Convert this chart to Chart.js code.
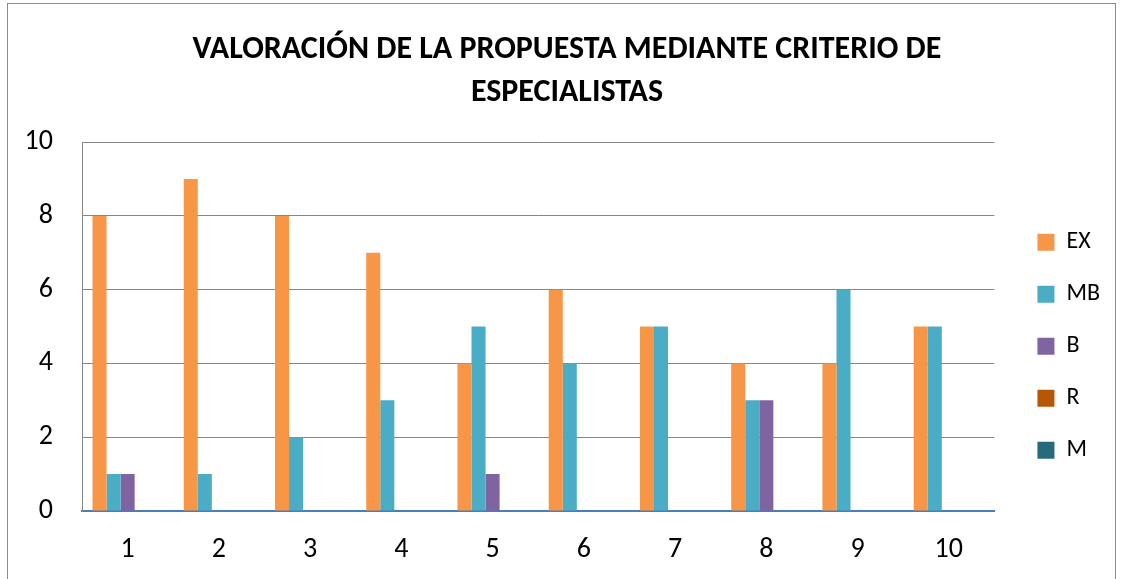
<!DOCTYPE html>
<html>
<head>
<meta charset="utf-8">
<script src="https://cdn.jsdelivr.net/npm/chart.js@4.4.0/dist/chart.umd.min.js"></script>
<style>
  html, body { margin: 0; padding: 0; background: #fff; }
  #wrap { position: absolute; left: 0; top: 0; width: 1123px; height: 579px; }
  #frame { position: absolute; left: 7px; top: 3px; width: 1109px; height: 590px; border: 1px solid #8c8c8c; box-sizing: border-box; }
</style>
</head>
<body>
<div id="wrap">
  <div id="frame"></div>
  <canvas id="myChart" width="1123" height="579"></canvas>
</div>
<script>
var titleLines=["VALORACIÓN DE LA PROPUESTA MEDIANTE CRITERIO DE","ESPECIALISTAS"];
var categories=["1","2","3","4","5","6","7","8","9","10"];
var seriesNames=["EX","MB","B","R","M"];
var exData=[8,9,8,7,4,6,5,4,4,5];
var mbData=[1,1,2,3,5,4,5,3,6,5];
var bData=[1,0,0,0,1,0,0,3,0,0];
var rData=[0,0,0,0,0,0,0,0,0,0];
var mData=[0,0,0,0,0,0,0,0,0,0];
var yTicks=[0,2,4,6,8,10];
var colors=["#F79646","#4BACC6","#8064A2","#B65708","#276A7C"];

var fam="Carlito, Lato, 'Open Sans', sans-serif";
var allData=[exData,mbData,bData,rData,mData];

var datasets=[];
seriesNames.forEach(function(name,i){
    datasets.push({
        label:name,
        data:allData[i],
        backgroundColor:colors[i],
        borderWidth:0,
        categoryPercentage:0.77,
        barPercentage:1
    });
});

var ctx=document.getElementById("myChart").getContext("2d");
var myChart=new Chart(ctx,{
    type:"bar",
    data:{
        labels:categories,
        datasets:datasets
    },
    options:{
        responsive:false,
        animation:false,
        // left padding is bigger so the title sits a bit right of center, like the original
        layout:{padding:{left:24,right:13,top:0,bottom:12}},
        plugins:{
            tooltip:{enabled:false},
            title:{
                display:true,
                text:titleLines,
                color:"#000",
                font:{family:fam,size:32,weight:"bold",lineHeight:1.33},
                padding:{top:29,bottom:28}
            },
            legend:{
                display:true,
                position:"right",
                fullSize:false,
                align:"center",
                title:{display:true,text:"",padding:{top:25,bottom:0}},
                labels:{
                    color:"#000",
                    font:{family:fam,size:24},
                    boxWidth:17,
                    boxHeight:17,
                    padding:28
                }
            }
        },
        scales:{
            x:{
                grid:{display:false,drawTicks:false},
                border:{display:true,color:"#4A7EBB",width:2},
                ticks:{color:"#000",font:{family:fam,size:28},padding:22},
                afterFit:function(scale){scale.height=56;}
            },
            y:{
                min:0,
                max:10,
                clip:false,
                afterBuildTicks:function(axis){
                    axis.ticks=yTicks.map(function(v){return {value:v};});
                },
                grid:{color:"#868686",lineWidth:1,drawTicks:false},
                border:{display:true,color:"#868686",width:1},
                ticks:{color:"#000",font:{family:fam,size:28},padding:29},
                afterFit:function(scale){scale.width=58;}
            },
            gap:{
                type:"linear",
                position:"right",
                display:true,
                grid:{display:false,drawTicks:false},
                border:{display:false},
                ticks:{display:false},
                afterFit:function(scale){scale.width=15;}
            }
        }
    }
});
</script>
</body>
</html>
